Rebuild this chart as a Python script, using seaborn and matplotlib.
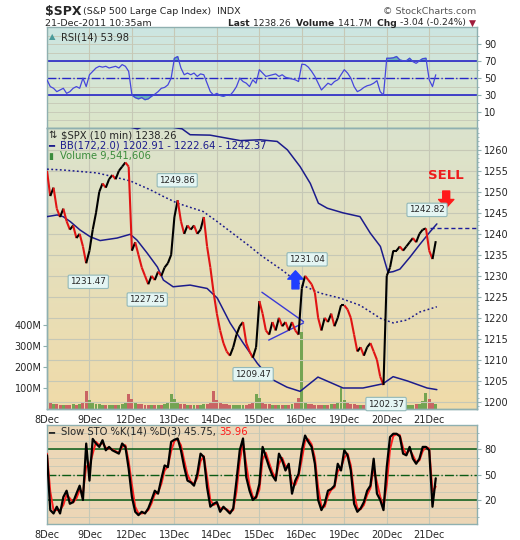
import numpy as np
import pandas as pd
import seaborn as sns
import matplotlib.pyplot as plt
from matplotlib.collections import LineCollection
from matplotlib.colors import to_rgb

sns.set_style("white")
plt.rcParams["font.family"] = ["DejaVu Sans"]

# ---------------- data (30 min buckets) ----------------
day_labels = ["8Dec", "9Dec", "12Dec", "13Dec", "14Dec", "15Dec", "16Dec", "19Dec", "20Dec", "21Dec"]
per_day = 13

close = [
    1255, 1249, 1251, 1246, 1244, 1246, 1243, 1241, 1242, 1239, 1240, 1237, 1233,   # 8Dec
    1236, 1241, 1245, 1250, 1252, 1251, 1253, 1254, 1253, 1255, 1256, 1257, 1256,   # 9Dec
    1236, 1238, 1235, 1232, 1230, 1228, 1230, 1229, 1231, 1230, 1232, 1233, 1235,   # 12Dec
    1244, 1248, 1243, 1240, 1242, 1241, 1242, 1240, 1241, 1244, 1237, 1232, 1226,   # 13Dec
    1221, 1217, 1214, 1212, 1211, 1213, 1216, 1218, 1219, 1214, 1212, 1210.5, 1213, # 14Dec
    1224, 1221, 1217, 1216, 1219, 1217, 1220, 1218, 1219, 1217, 1219, 1217, 1216,   # 15Dec
    1227, 1230, 1229, 1228, 1226, 1220, 1217, 1220, 1219, 1221, 1218, 1220, 1223,   # 16Dec
    1223, 1222, 1220, 1216, 1212, 1213, 1211, 1213, 1214, 1212, 1210, 1206, 1204,   # 19Dec
    1230, 1232, 1236, 1236, 1237, 1236, 1237, 1238, 1239, 1238, 1240, 1241, 1241.3, # 20Dec
    1236, 1234, 1238.26,                                                            # 21Dec
]

volume_m = [
    40, 28, 25, 22, 20, 20, 18, 20, 22, 20, 24, 35, 88,
    45, 30, 24, 22, 20, 18, 18, 20, 20, 20, 22, 30, 70,
    50, 30, 24, 22, 20, 18, 18, 18, 20, 20, 22, 30, 70,
    50, 32, 25, 22, 20, 18, 18, 20, 20, 22, 24, 32, 88,
    45, 30, 25, 22, 20, 18, 18, 20, 20, 20, 22, 30, 70,
    55, 30, 24, 22, 20, 18, 18, 20, 20, 20, 22, 30, 55,
    370, 35, 25, 22, 20, 18, 18, 20, 20, 22, 24, 34, 100,
    45, 30, 24, 22, 20, 18, 18, 20, 20, 22, 24, 30, 50,
    40, 30, 25, 22, 20, 18, 18, 20, 20, 22, 26, 36, 75,
    50, 30, 25,
]

rsi = [
    48, 40, 38, 34, 36, 38, 32, 34, 38, 40, 38, 50, 40,
    54, 58, 62, 64, 63, 64, 62, 63, 64, 62, 66, 64, 58,
    30, 27, 25.5, 27, 24.5, 25.5, 28.5, 31, 34, 38, 39, 42, 50,
    73.5, 75.5, 62, 54, 56, 54, 56, 52, 55, 54, 44, 34, 30,
    32, 29.5, 28.5, 30, 29.5, 34, 40, 50, 46, 44, 40, 48, 44,
    60, 56, 52, 53, 54, 55, 52, 54, 51, 50, 49, 48, 46,
    66.5, 66, 63, 58, 52, 44, 36, 40, 44, 42, 46, 48, 54,
    60, 56, 50, 40, 34, 36, 39, 41, 42, 44, 47, 34, 30,
    73.5, 73.5, 74, 75.5, 71.5, 70.5, 70.5, 73.5, 69.5, 67.5, 70.5, 73, 73.5,
    48, 40, 53.98,
]

sto_k = [
    73, 8, 4, 12, 4, 23.5, 31, 15.5, 17.5, 27.5, 37, 20, 87,
    43, 92.5, 87, 83, 91, 79, 83, 79, 77, 75, 87, 83, 57,
    23.5, 6, 2, 6, 4, 10, 20, 31, 27.5, 45, 61, 59, 89,
    91.5, 93, 79, 59, 43, 41, 37, 51, 75, 71, 35, 12, 15.5,
    17.5, 6, 12, 8, 4, 10, 43, 79, 93, 47, 31, 20, 23.5,
    39, 83, 71, 59, 49, 43, 75, 67, 55, 63, 27.5, 43, 51,
    79, 96.5, 89, 83, 63, 20, 8, 15.5, 31, 33, 37, 63, 55,
    79, 73, 55, 15.5, 6, 10, 17.5, 31, 37, 69, 27.5, 20, 8,
    59, 94.7, 98.6, 98.6, 95.5, 75, 73, 83, 69, 63, 69, 83, 83,
    79, 12, 45.75,
]

sto_d = [
    75, 30, 8, 8, 8, 14, 26, 22, 17, 22, 32, 28, 60,
    60, 75, 89, 85, 88, 82, 81, 80, 78, 76, 83, 85, 66,
    38, 12, 4, 4, 5, 8, 16, 27, 29, 39, 55, 60, 78,
    90, 92, 85, 67, 50, 42, 39, 46, 66, 72, 47, 20, 14,
    16, 10, 10, 9, 6, 8, 30, 66, 88, 62, 37, 24, 22,
    32, 68, 76, 64, 53, 46, 63, 70, 60, 60, 40, 38, 48,
    68, 90, 92, 86, 70, 35, 12, 12, 25, 32, 35, 54, 58,
    70, 75, 61, 28, 10, 9, 14, 26, 34, 58, 41, 24, 12,
    38, 80, 96, 98, 97, 82, 74, 80, 73, 65, 67, 78, 83,
    81, 30, 35.96,
]

# Bollinger bands (172, 2.0), x in trading days from 8Dec open
bb_up_t = [0.0, 1.02, 2.01, 2.13, 2.31, 2.90, 3.18, 3.37, 3.84, 4.55, 5.02, 5.42, 5.66, 5.96,
           6.20, 6.39, 6.60, 6.97, 7.37, 7.61, 7.85, 8.03, 8.15, 8.31, 8.55, 8.78, 9.02, 9.18]
bb_up = [1268, 1267, 1265.3, 1265.0, 1265.8, 1265.5, 1265.0, 1263.6, 1263.5, 1262.2, 1262.4, 1262.0,
         1260.0, 1256.0, 1252.0, 1247.3, 1246.1, 1245.0, 1244.1, 1240.2, 1237.0, 1230.8, 1231.0,
         1231.6, 1234.5, 1237.5, 1240.5, 1242.37]
bb_mid_t = [0.0, 0.38, 1.18, 1.56, 1.96, 2.43, 2.74, 3.07, 3.68, 4.01, 4.78, 5.02, 5.56, 5.96,
            6.43, 6.90, 7.37, 7.85, 8.15, 8.48, 8.78, 9.18]
bb_mid = [1255.4, 1255.2, 1254.5, 1253.6, 1252.6, 1250.5, 1248.9, 1247.3, 1245.3, 1242.9, 1237.0,
          1235.0, 1231.2, 1228.0, 1225.9, 1224.7, 1223.0, 1219.9, 1218.8, 1219.5, 1221.4, 1222.64]
bb_low_t = [0.0, 0.24, 0.38, 0.55, 0.78, 1.02, 1.25, 1.65, 1.96, 2.12, 2.36, 2.60, 2.74, 2.97,
            3.37, 3.77, 4.01, 4.31, 4.62, 4.95, 5.25, 5.65, 5.96, 6.38, 6.97, 7.44, 7.91, 8.15,
            8.48, 8.95, 9.18]
bb_low = [1244.1, 1244.5, 1244.1, 1242.9, 1240.9, 1239.3, 1238.4, 1239.0, 1239.9, 1238.5, 1235.4,
          1232.1, 1229.0, 1227.4, 1227.8, 1227.0, 1224.7, 1218.8, 1214.0, 1209.2, 1205.6, 1203.5,
          1202.5, 1205.9, 1203.3, 1203.3, 1204.3, 1206.0, 1205.0, 1203.3, 1202.91]

# triangle trend lines on 15Dec
tri_up_t, tri_up = [5.06, 6.04], [1226.1, 1219.1]
tri_low_t, tri_low = [5.22, 6.04], [1214.7, 1218.8]

# price call-outs
callout_t = [0.972, 2.36, 3.066, 4.853, 6.125, 7.984, 8.948]
callout_val = [1231.47, 1227.25, 1249.86, 1209.47, 1231.04, 1202.37, 1242.82]
callout_above = [False, False, True, False, True, False, True]

prev_close = 1241.30
buy_t, sell_t = 5.85, 9.40

# ---------------- frame ----------------
t = [i // per_day + (i % per_day) / per_day for i in range(len(close))]
df = pd.DataFrame({"t": t, "close": close, "vol": np.array(volume_m) * 1e6,
                   "rsi": rsi, "k": sto_k, "d": sto_d})
bands = {
    "up": pd.DataFrame({"t": bb_up_t, "v": bb_up}),
    "mid": pd.DataFrame({"t": bb_mid_t, "v": bb_mid}),
    "low": pd.DataFrame({"t": bb_low_t, "v": bb_low}),
}

W, H = 520, 540
fig = plt.figure(figsize=(W / 100, H / 100), dpi=100)


def rect(x0, y0, x1, y1):
    return [x0 / W, 1 - y1 / H, (x1 - x0) / W, (y1 - y0) / H]


ax_rsi = fig.add_axes(rect(47, 27, 477, 128))
ax_vol = fig.add_axes(rect(47, 128, 477, 409))
ax_px = ax_vol.twinx()
ax_sto = fig.add_axes(rect(47, 425, 477, 524))


def gradient(ax, top, bottom):
    c0, c1 = np.array(to_rgb(top)), np.array(to_rgb(bottom))
    f = np.linspace(0, 1, 64)[:, None, None]
    img = np.repeat(c0 + (c1 - c0) * f, 2, axis=1)
    ax.imshow(img, extent=(0, 1, 0, 1), transform=ax.transAxes, aspect="auto",
              zorder=-10, interpolation="bilinear")


gradient(ax_rsi, "#cce5e2", "#dde6c8")
gradient(ax_vol, "#dbe3cd", "#f0dba9")
gradient(ax_sto, "#ecd8b8", "#ecd6b6")

grid_c = "#c6c8b6"
spine_c = "#8fb0b0"
xmax = 10.125

# ---------------- RSI ----------------
sns.lineplot(data=df, x="t", y="rsi", ax=ax_rsi, color="#4646dc", linewidth=0.9, zorder=3)
r = df["rsi"].to_numpy()
ax_rsi.fill_between(df["t"], r, 70, where=r > 70, interpolate=True, color="#6cb5b5", zorder=2)
ax_rsi.fill_between(df["t"], r, 30, where=r < 30, interpolate=True, color="#6cb5b5", zorder=2)
ax_rsi.axhline(70, color="#2626c8", lw=1.2, zorder=2)
ax_rsi.axhline(30, color="#2626c8", lw=1.2, zorder=2)
ax_rsi.axhline(50, color="#2626c8", lw=1.0, ls="-.", zorder=2)
ax_rsi.set_ylim(-9, 110.5)
ax_rsi.set_yticks([10, 30, 50, 70, 90])
ax_rsi.set_yticks(range(0, 101, 10), minor=True)

# ---------------- price + volume ----------------
vol_cols = ["#c96464"] + ["#74a452" if b >= a else "#c96464" for a, b in zip(close[:-1], close[1:])]
ax_vol.bar(df["t"], df["vol"], width=0.9 / per_day, color=vol_cols, zorder=1, linewidth=0)
ax_vol.set_ylim(0, 1345e6)
ax_vol.set_yticks([100e6, 200e6, 300e6, 400e6])
ax_vol.set_yticklabels(["100M", "200M", "300M", "400M"])

for key, ls in [("up", "-"), ("mid", (0, (1.2, 1.6))), ("low", "-")]:
    sns.lineplot(data=bands[key], x="t", y="v", ax=ax_px, color="#1c1c8c",
                 linewidth=1.1, linestyle=ls, zorder=3)
ax_px.plot(tri_up_t, tri_up, color="#3a3ad6", lw=1.0, zorder=3)
ax_px.plot(tri_low_t, tri_low, color="#3a3ad6", lw=1.0, zorder=3)
ax_px.hlines(prev_close, 9.03, xmax, colors="#1c1c9c", linestyles=(0, (3, 2)), lw=1, zorder=3)

pts = df[["t", "close"]].to_numpy()
segs = np.stack([pts[:-1], pts[1:]], axis=1)
seg_cols = np.where(np.diff(df["close"]) >= 0, "#000000", "#e01414")
ax_px.add_collection(LineCollection(segs, colors=seg_cols, linewidths=1.5, zorder=4))

ax_px.set_ylim(1198.3, 1265.2)
ax_px.set_yticks(range(1200, 1261, 5))
ax_px.set_yticks(range(1199, 1265), minor=True)

for tt, v, up in zip(callout_t, callout_val, callout_above):
    ax_px.annotate(f"{v:.2f}", xy=(tt, v), xytext=(0, 5.5 if up else -5.5),
                   textcoords="offset points", ha="center", va="bottom" if up else "top",
                   fontsize=6.3, zorder=6,
                   bbox=dict(boxstyle="round,pad=0.25,rounding_size=0.15", fc="#e4f5f3",
                             ec="#93b9b9", lw=0.8))

ax_px.annotate("", xy=(buy_t, 1231.2), xytext=(buy_t, 1226.9),
               arrowprops=dict(fc="#1f3fff", ec="#1f3fff", width=5, headwidth=11, headlength=6))
ax_px.annotate("", xy=(sell_t, 1246.2), xytext=(sell_t, 1250.2),
               arrowprops=dict(fc="#ff1a1a", ec="#ff1a1a", width=5, headwidth=11, headlength=6))
ax_px.text(sell_t, 1253.8, "SELL", color="#ee1c1c", fontsize=9.5, fontweight="bold",
           ha="center", va="center")

# ---------------- slow stochastic ----------------
ax_sto.axhline(80, color="#0a5a14", lw=1.1, zorder=2)
ax_sto.axhline(20, color="#0a5a14", lw=1.1, zorder=2)
ax_sto.axhline(50, color="#0a5a14", lw=1.0, ls="-.", zorder=2)
sns.lineplot(data=df, x="t", y="d", ax=ax_sto, color="#ff2020", linewidth=1.4, zorder=3)
sns.lineplot(data=df, x="t", y="k", ax=ax_sto, color="#000000", linewidth=1.6, zorder=4)
ax_sto.set_ylim(-8.5, 109)
ax_sto.set_yticks([20, 50, 80])
ax_sto.set_yticks(range(0, 101, 10), minor=True)

# ---------------- axes styling ----------------
for ax in (ax_rsi, ax_vol, ax_px, ax_sto):
    ax.set_xlim(0, xmax)
    ax.set_xlabel("")
    ax.set_ylabel("")
    for s in ax.spines.values():
        s.set_color(spine_c)
        s.set_linewidth(1)

for ax in (ax_rsi, ax_vol, ax_sto):
    ax.set_xticks(range(len(day_labels)))
    ax.grid(axis="x", color=grid_c, lw=0.8)

ax_rsi.tick_params(axis="x", length=0, labelbottom=False)
for ax in (ax_vol, ax_sto):
    ax.set_xticklabels(day_labels)
    ax.tick_params(axis="x", length=3, color=spine_c, labelsize=7, pad=1.5)

for ax in (ax_rsi, ax_sto):
    ax.yaxis.tick_right()
    ax.grid(axis="y", which="both", color=grid_c, lw=0.6)
ax_px.grid(axis="y", which="major", color=grid_c, lw=0.8)

for ax in (ax_rsi, ax_px, ax_sto):
    ax.tick_params(axis="y", which="major", length=3, color=spine_c, labelsize=7, pad=2)
    ax.tick_params(axis="y", which="minor", length=1.5, color=spine_c)
ax_vol.tick_params(axis="y", length=3, color=spine_c, labelsize=7, pad=1)

# ---------------- texts ----------------
renderer = fig.canvas.get_renderer()


def fx(x, y):
    return x / W, 1 - y / H


def chain(x, y, parts, right=False, **kw):
    seq = reversed(parts) if right else parts
    for s, props in seq:
        txt = fig.text(*fx(x, y), s, va="center", ha="right" if right else "left", **{**kw, **props})
        w = txt.get_window_extent(renderer).width
        x = x - w if right else x + w


fig.text(*fx(45, 12), "$SPX", fontsize=9, fontweight="bold", va="center")
fig.text(*fx(83, 12), "(S&P 500 Large Cap Index)  INDX", fontsize=6.8, va="center")
fig.text(*fx(476, 12), "© StockCharts.com", fontsize=6.8, va="center", ha="right", color="#555555")
fig.text(*fx(45, 23), "21-Dec-2011 10:35am", fontsize=6.8, va="center")
chain(476, 23, [("Last ", {"fontweight": "bold"}), ("1238.26  ", {}),
                ("Volume ", {"fontweight": "bold"}), ("141.7M  ", {}),
                ("Chg ", {"fontweight": "bold"}), ("-3.04 (-0.24%) ", {}),
                ("▼", {"color": "#a01c3c"})], right=True, fontsize=6.6)

fig.text(*fx(49, 37), "▲", fontsize=6, color="#4a9a9a", va="center")
fig.text(*fx(61, 37), "RSI(14) 53.98", fontsize=7.2, va="center")

fig.text(*fx(48, 135), "⇅", fontsize=7.2, va="center")
fig.text(*fx(61, 135), "$SPX (10 min) 1238.26", fontsize=7.2, va="center")
fig.text(*fx(48, 145.5), "━", fontsize=7.2, va="center", color="#1c1c8c")
fig.text(*fx(60, 145.5), "BB(172,2.0) 1202.91 - 1222.64 - 1242.37", fontsize=7.2,
         va="center", color="#1c1c8c")
fig.text(*fx(48, 156), "▮", fontsize=6.5, va="center", color="#3c8c3c")
fig.text(*fx(60, 156), "Volume 9,541,606", fontsize=7.2, va="center", color="#3c8c3c")

fig.text(*fx(48, 432), "━", fontsize=7.2, va="center")
chain(61, 432, [("Slow STO %K(14) %D(3) 45.75, ", {}), ("35.96", {"color": "#ff1a1a"})],
      fontsize=7.2)

fig.savefig("out.png", dpi=100, facecolor="white")
